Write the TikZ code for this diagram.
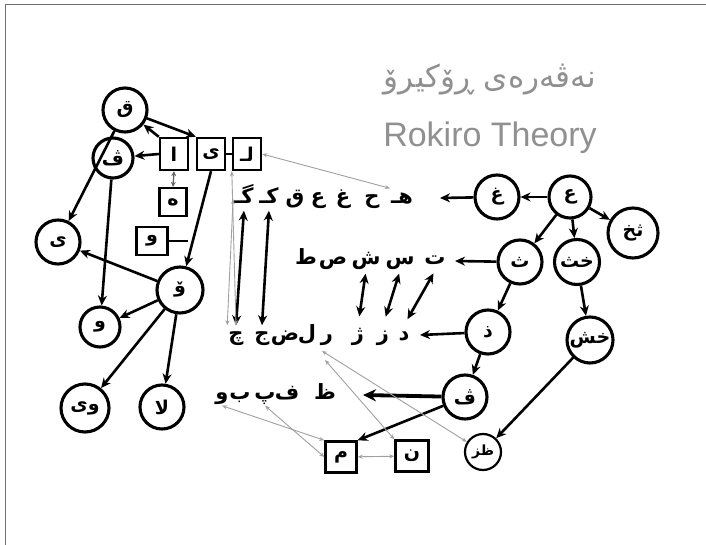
\documentclass[tikz,border=0pt]{standalone}
\usepackage{fontspec}
\usetikzlibrary{arrows.meta,calc}
\setmainfont{Liberation Sans}
\newfontfamily\arb[Script=Arabic,BoldFont={DejaVu Sans Bold}]{DejaVu Sans}
\TeXXeTstate=1
\newcommand\rl[1]{\beginR#1\endR}
\definecolor{framegray}{HTML}{707070}
\definecolor{titlegray}{HTML}{909090}
\definecolor{linkgray}{HTML}{A0A0A0}
\begin{document}
\begin{tikzpicture}[x=1pt,y=-1pt,
  circ/.style={circle,draw,line width=3.1pt,inner sep=0pt,
    font=\arb\bfseries\fontsize{19}{21}\selectfont},
  sq/.style={rectangle,draw,line width=2.4pt,minimum width=28pt,minimum height=32pt,
    inner sep=0pt,font=\arb\bfseries\fontsize{19}{21}\selectfont},
  lt/.style={inner sep=1pt,text height=14pt,text depth=5pt,
    font=\arb\bfseries\fontsize{21}{24}\selectfont},
  arr/.style={line width=2.6pt,-{Stealth[length=10pt,width=9pt]}},
  dbl/.style={line width=2.6pt,{Stealth[length=10pt,width=9pt]}-{Stealth[length=10pt,width=9pt]}},
  link/.style={draw=linkgray,line width=0.9pt,{Stealth[length=5pt,width=4pt]}-{Stealth[length=5pt,width=4pt]}}]
\useasboundingbox (0,0) rectangle (706,545);
\fill[white] (0,0) rectangle (706,545);
% frame along the top and left edges
\draw[framegray,line width=1.5pt] (5.5,545) -- (5.5,4.5) -- (706,4.5);

% titles
\node[font=\arb\fontsize{31}{34}\selectfont,text=titlegray] (t1) at (490,80) {\rl{نەڤەرەی ڕۆکیرۆ}};
\node[font=\fontsize{34}{38}\selectfont,text=titlegray] (t2) at (490,138) {Rokiro Theory};

% ---- left cluster ----
\node[circ,minimum size=44pt] (qa) at (125,110) {\rl{ق}};
\node[circ,minimum size=40pt] (ve) at (113,158) {\rl{ڤ}};
\node[circ,minimum size=44pt] (ya) at (58,242) {\rl{ی}};
\node[circ,minimum size=46pt] (oo) at (180,290) {\rl{ۆ}};
\node[circ,minimum size=40pt] (wa) at (100,327) {\rl{و}};
\node[circ,minimum size=48pt] (wy) at (85,408) {\rl{وی}};
\node[circ,minimum size=44pt] (la) at (162,407) {\rl{لا}};

\node[sq] (bA) at (174,154) {\rl{ا}};
\node[sq] (bY) at (211,154) {\rl{ی}};
\node[sq] (bL) at (247,154) {\rl{لـ}};
\node[sq,minimum width=27pt,minimum height=28pt] (bH) at (173,202) {\rl{ە}};
\node[sq,minimum width=31pt,minimum height=28pt] (bW) at (152,241) {\rl{و}};

\draw[line width=1.6pt] (bY.east) -- (bL.west);
\draw[arr] (qa) -- (bY.north west);
\draw[arr] (bA.north west) -- (qa);
\draw[arr] (bA.west) -- (ve);
\draw[line width=1.3pt,linkgray!60!black,{Stealth[length=5pt,width=5pt]}-{Stealth[length=5pt,width=5pt]}] (bA.south) -- (bH.north);
\draw[arr] (bY.south) -- (oo);
\coordinate (jw) at ($(bY.south)!0.73!(oo.north)$);
\draw[line width=2.8pt] (bW.east) -- (bW.east -| jw);
\draw[arr] (qa) -- (ya);
\draw[arr] (ve) -- (wa);
\draw[arr] (oo) -- (ya);
\draw[arr] (oo) -- (wa);
\draw[arr] (oo) -- (wy);
\draw[arr] (oo) -- (la);

% ---- rows of letters ----
\node[lt] (r1a) at (244,199) {\rl{گـ}};
\node[lt] (r1b) at (269,199) {\rl{کـ}};
\node[lt] (r1c) at (295,199) {\rl{ق}};
\node[lt] (r1d) at (318,199) {\rl{ع}};
\node[lt] (r1e) at (343,199) {\rl{غ}};
\node[lt] (r1f) at (372,199) {\rl{ح}};
\node[lt] (r1g) at (402,199) {\rl{هـ}};

\node[lt] (r2a) at (306,260) {\rl{ط}};
\node[lt] (r2b) at (333,260) {\rl{ص}};
\node[lt] (r2c) at (366,260) {\rl{ش}};
\node[lt] (r2d) at (400,260) {\rl{س}};
\node[lt] (r2e) at (435,260) {\rl{ت}};

\node[lt] (r3a) at (236,336) {\rl{چ}};
\node[lt] (r3b) at (262,336) {\rl{ج}};
\node[lt] (r3c) at (285,336) {\rl{ض}};
\node[lt] (r3d) at (307,336) {\rl{ل}};
\node[lt] (r3e) at (327,336) {\rl{ر}};
\node[lt] (r3f) at (358,336) {\rl{ژ}};
\node[lt] (r3g) at (383,336) {\rl{ز}};
\node[lt] (r3h) at (404,336) {\rl{د}};

\node[lt] (r4a) at (222,395) {\rl{و}};
\node[lt] (r4b) at (240,395) {\rl{ب}};
\node[lt] (r4c) at (265,395) {\rl{پ}};
\node[lt] (r4d) at (287,395) {\rl{ف}};
\node[lt] (r4e) at (325,395) {\rl{ظ}};

\draw[dbl,shorten <=1pt] (r1a.south) -- (r3a.north);
\draw[dbl,shorten <=1pt] (r1b.south) -- (r3b.north);
\draw[dbl,shorten <=3pt,shorten >=9pt] (r2c.south) -- (r3f.north);
\draw[dbl,shorten <=3pt,shorten >=9pt] (r2d.south) -- (r3g.north);
\draw[dbl,shorten <=3pt,shorten >=7pt] (r2e.south) -- (r3h.north);

% ---- right cluster ----
\node[circ,minimum size=42pt] (A) at (570,197) {\rl{ع}};
\node[circ,minimum size=44pt] (B) at (497,197) {\rl{غ}};
\node[circ,minimum size=50pt] (C) at (633,233) {\rl{ثخ}};
\node[circ,minimum size=45pt] (D) at (577,262) {\rl{خث}};
\node[circ,minimum size=44pt] (E) at (520,262) {\rl{ث}};
\node[circ,minimum size=44pt] (F) at (488,332) {\rl{ذ}};
\node[circ,minimum size=44pt] (G) at (465,397) {\rl{ڤ}};
\node[circ,minimum size=46pt] (I) at (590,340) {\rl{خش}};
\node[circ,minimum size=36pt,line width=2.2pt,font=\arb\bfseries\fontsize{14}{16}\selectfont] (H) at (483,452) {\rl{ظز}};

\node[sq,minimum width=31pt,minimum height=31pt] (bM) at (341,457) {\rl{م}};
\node[sq,minimum width=33pt,minimum height=31pt] (bN) at (412,456) {\rl{ن}};

\coordinate (e1) at (440,198);
\coordinate (e2) at (455,261);
\coordinate (e3) at (420,335);
\coordinate (e4) at (363,395);

\draw[arr] (A) -- (B);
\draw[arr] (B) -- (e1);
\draw[arr] (A) -- (C);
\draw[arr] (A) -- (E);
\draw[arr] (A) -- (D);
\draw[arr] (E) -- (e2);
\draw[arr] (E) -- (F);
\draw[arr] (F) -- (e3);
\draw[arr] (F) -- (G);
\draw[line width=3.8pt,-{Stealth[length=13pt,width=12pt]}] (G) -- (e4);
\draw[arr] (G) -- (bM.north east);
\draw[arr] (D) -- (I);
\draw[arr] (I) -- (H);

% ---- thin grey links ----
\coordinate (g1) at (322,351);
\coordinate (g2) at (325,360);
\draw[link] (bL.east) -- (r1g.north west);
\draw[link] (bL.south west) -- (r3a.north);
\draw[link] (r1a.west) -- (r3a.north west);
\draw[link] (bM) -- (bN);
\draw[link] (bM.north west) -- (r4a.south);
\draw[link] (bM.west) -- (r4c.south);
\draw[link] (H) -- (g1);
\draw[link] (bN.north west) -- (g2);
\end{tikzpicture}
\end{document}
